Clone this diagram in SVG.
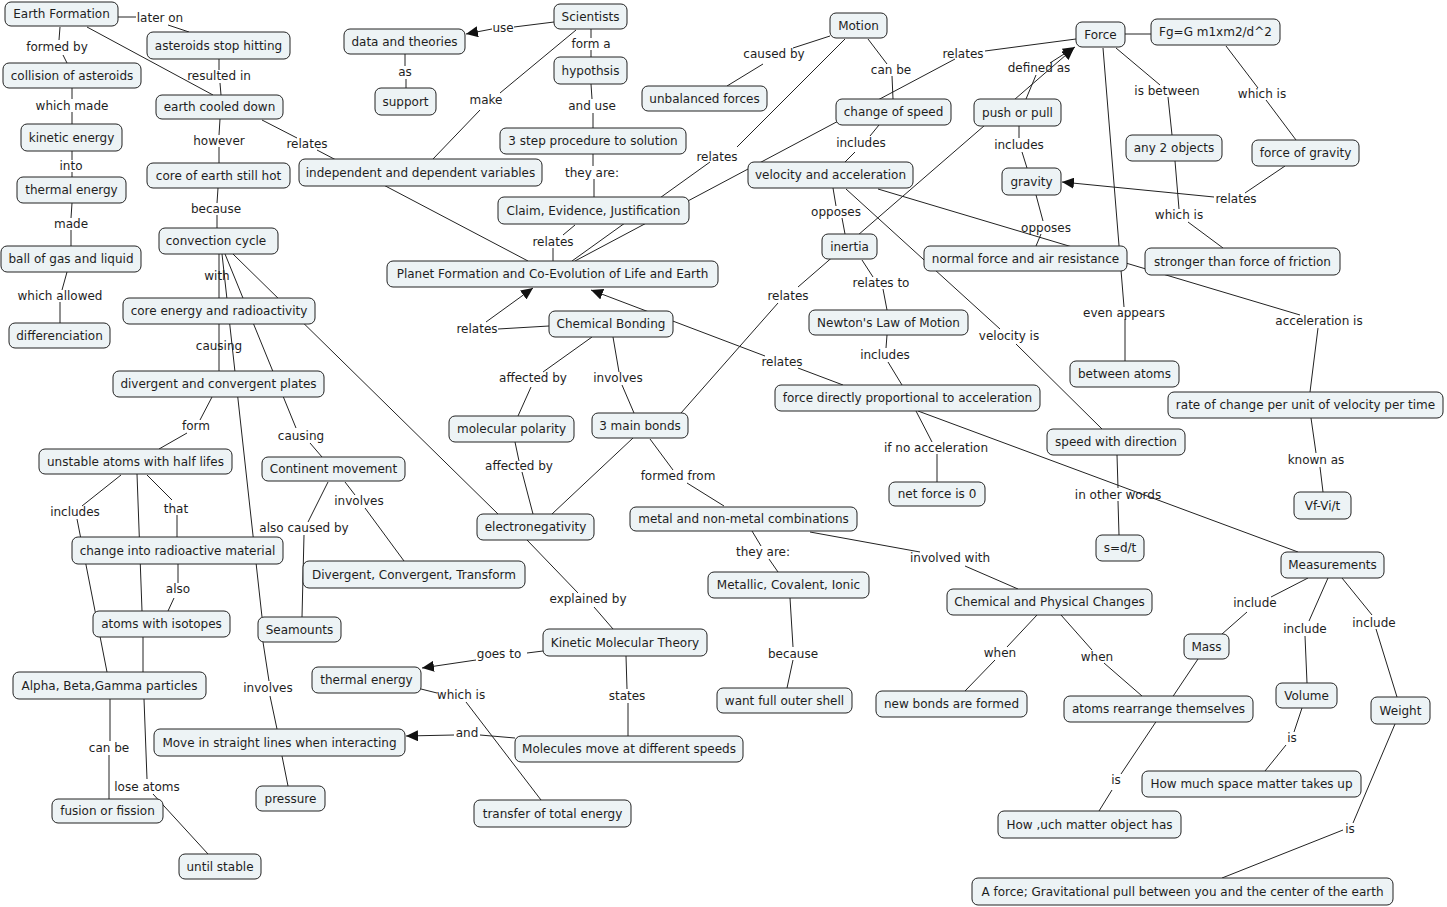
<svg xmlns="http://www.w3.org/2000/svg" width="1447" height="907" viewBox="0 0 1447 907">
<defs>
<style>
text{font-family:"DejaVu Sans",Verdana,sans-serif;font-size:12px;fill:#1e1e1e;text-anchor:middle}
.n rect{fill:#edf3f5;stroke:#222;stroke-width:1}
#connectors path{fill:none;stroke:#222;stroke-width:1}
.a{marker-end:url(#arr)}
</style>
<marker id="arr" markerUnits="userSpaceOnUse" markerWidth="13" markerHeight="11" refX="12" refY="5.5" orient="auto"><path d="M0,0 L12,5.5 L0,11 z" fill="#111"/></marker>
</defs>
<rect width="1447" height="907" fill="#fff"/>
<g id="connectors">
<path d="M118,17 L136,17"/><path d="M168,25 L189,32"/>
<path d="M60,27 L59,40"/><path d="M63,55 L67,63"/>
<path d="M87,27 L213,95"/>
<path d="M219,59 L219,70"/><path d="M220,83 L221,95"/>
<path d="M72,88 L72,99"/><path d="M72,112 L72,124"/>
<path d="M72,151 L72,160"/><path d="M72,172 L72,177"/>
<path d="M72,203 L71,218"/><path d="M71,230 L71,246"/>
<path d="M67,272 L62,290"/><path d="M60,302 L60,323"/>
<path d="M220,119 L219,135"/><path d="M219,147 L219,163"/>
<path d="M262,120 L297,138"/><path d="M317,150 L528,261"/>
<path d="M218,188 L217,203"/><path d="M217,215 L217,228"/>
<path d="M219,254 L219,298"/>
<path d="M222,254 L262,617"/>
<path d="M225,254 L296,428"/><path d="M310,443 L322,457"/>
<path d="M233,254 L498,514"/>
<path d="M219,324 L219,371"/>
<path d="M212,397 L200,420"/><path d="M187,433 L159,449"/>
<path d="M121,475 L82,506"/><path d="M77,519 L107,672"/>
<path d="M137,474 L142,611"/><path d="M143,637 L143,672"/>
<path d="M147,475 L172,500"/><path d="M177,515 L177,537"/>
<path d="M178,564 L178,583"/><path d="M174,598 L168,611"/>
<path d="M110,699 L110,741"/><path d="M109,755 L109,799"/>
<path d="M144,699 L147,779"/><path d="M153,794 L208,854"/>
<path d="M328,482 L308,522"/><path d="M304,535 L302,617"/>
<path d="M345,482 L355,495"/><path d="M365,508 L404,561"/>
<path d="M263,642 L269,681"/><path d="M270,696 L277,729"/>
<path d="M282,756 L288,786"/>
<path d="M543,651 L527,653"/><path class="a" d="M476,660 L422,668"/>
<path d="M421,689 L437,693"/><path d="M466,702 L541,800"/>
<path d="M626,656 L627,689"/><path d="M628,703 L628,736"/>
<path d="M515,738 L480,735"/><path class="a" d="M454,735 L406,736"/>
<path d="M527,540 L578,593"/><path d="M594,607 L613,629"/>
<path d="M592,337 L543,372"/><path d="M531,387 L518,416"/>
<path d="M613,337 L619,372"/><path d="M622,385 L634,413"/>
<path d="M515,442 L519,461"/><path d="M522,472 L533,514"/>
<path d="M633,438 L552,514"/>
<path d="M650,439 L673,470"/><path d="M687,483 L724,506"/>
<path d="M752,531 L761,546"/><path d="M769,559 L778,572"/>
<path d="M810,532 L920,552"/><path d="M965,566 L1018,589"/>
<path d="M790,598 L793,647"/><path d="M793,660 L787,688"/>
<path d="M549,326 L498,329"/><path class="a" d="M486,322 L533,288"/>
<path d="M843,385 L798,368"/><path class="a" d="M765,356 L591,290"/>
<path d="M554,22 L514,27"/><path class="a" d="M492,29 L466,34"/>
<path d="M591,29 L591,38"/><path d="M591,50 L591,57"/>
<path d="M591,84 L592,99"/><path d="M593,113 L593,128"/>
<path d="M593,154 L593,166"/><path d="M594,179 L594,197"/>
<path d="M405,54 L405,66"/><path d="M406,79 L406,88"/>
<path d="M576,30 L500,93"/><path d="M480,110 L433,159"/>
<path d="M575,225 L563,235"/><path d="M553,248 L553,261"/>
<path d="M845,39 L737,147"/><path d="M710,162 L572,261"/>
<path d="M575,261 L955,59"/><path d="M985,51 L1076,39"/>
<path d="M830,36 L793,48"/><path d="M763,64 L727,86"/>
<path d="M868,39 L887,64"/><path d="M892,76 L893,99"/>
<path d="M879,125 L870,136"/><path d="M855,152 L845,162"/>
<path d="M833,188 L836,206"/><path d="M842,218 L845,234"/>
<path d="M878,189 L1300,315"/><path d="M1318,328 L1310,392"/>
<path d="M846,189 L1000,329"/><path d="M1016,344 L1102,429"/>
<path d="M862,260 L873,277"/><path d="M883,289 L887,310"/>
<path d="M681,413 L778,303"/><path class="a" d="M798,287 L1074,48"/>
<path d="M887,335 L886,348"/><path d="M888,362 L902,385"/>
<path d="M916,411 L932,442"/><path d="M937,454 L937,482"/>
<path d="M918,411 L1298,552"/>
<path d="M1117,455 L1118,488"/><path d="M1118,501 L1119,535"/>
<path d="M1103,48 L1124,307"/><path d="M1125,319 L1125,361"/>
<path d="M1026,99 L1036,75"/><path class="a" d="M1050,63 L1075,47"/>
<path d="M1019,126 L1019,138"/><path d="M1022,152 L1027,168"/>
<path d="M1036,195 L1043,221"/><path d="M1041,234 L1036,246"/>
<path d="M1116,48 L1160,85"/><path d="M1168,97 L1172,135"/>
<path d="M1175,161 L1179,209"/><path d="M1188,222 L1223,248"/>
<path d="M1125,34 L1151,34"/>
<path d="M1226,46 L1258,88"/><path d="M1266,100 L1296,140"/>
<path d="M1285,166 L1245,193"/><path class="a" d="M1214,197 L1062,182"/>
<path d="M1311,418 L1316,453"/><path d="M1320,467 L1323,492"/>
<path d="M1308,578 L1271,597"/><path d="M1247,612 L1222,634"/>
<path d="M1328,578 L1309,621"/><path d="M1305,636 L1307,683"/>
<path d="M1342,578 L1372,615"/><path d="M1376,629 L1397,697"/>
<path d="M1037,615 L1007,647"/><path d="M995,660 L965,691"/>
<path d="M1061,615 L1092,650"/><path d="M1104,663 L1142,696"/>
<path d="M1198,659 L1121,774"/><path d="M1112,790 L1099,811"/>
<path d="M1302,708 L1294,732"/><path d="M1286,745 L1265,771"/>
<path d="M1395,724 L1353,823"/><path d="M1343,830 L1222,878"/>
<g id="linking-phrases">
<text x="160" y="22">later on</text>
<text x="57" y="51">formed by</text>
<text x="219" y="80">resulted in</text>
<text x="72" y="110">which made</text>
<text x="71" y="170">into</text>
<text x="71" y="228">made</text>
<text x="60" y="300">which allowed</text>
<text x="219" y="145">however</text>
<text x="216" y="213">because</text>
<text x="307" y="148">relates</text>
<text x="217" y="280">with</text>
<text x="219" y="350">causing</text>
<text x="405" y="76">as</text>
<text x="486" y="104">make</text>
<text x="503" y="32">use</text>
<text x="591" y="48">form a</text>
<text x="592" y="110">and use</text>
<text x="592" y="177">they are:</text>
<text x="553" y="246">relates</text>
<text x="717" y="161">relates</text>
<text x="774" y="58">caused by</text>
<text x="891" y="74">can be</text>
<text x="861" y="147">includes</text>
<text x="836" y="216">opposes</text>
<text x="788" y="300">relates</text>
<text x="881" y="287">relates to</text>
<text x="963" y="58">relates</text>
<text x="1039" y="72">defined as</text>
<text x="1167" y="95">is between</text>
<text x="1262" y="98">which is</text>
<text x="1019" y="149">includes</text>
<text x="1236" y="203">relates</text>
<text x="1179" y="219">which is</text>
<text x="1046" y="232">opposes</text>
<text x="1124" y="317">even appears</text>
<text x="1319" y="325">acceleration is</text>
<text x="1009" y="340">velocity is</text>
<text x="885" y="359">includes</text>
<text x="782" y="366">relates</text>
<text x="936" y="452">if no acceleration</text>
<text x="1118" y="499">in other words</text>
<text x="1316" y="464">known as</text>
<text x="950" y="562">involved with</text>
<text x="1255" y="607">include</text>
<text x="1305" y="633">include</text>
<text x="1374" y="627">include</text>
<text x="1000" y="657">when</text>
<text x="1097" y="661">when</text>
<text x="1116" y="784">is</text>
<text x="1292" y="742">is</text>
<text x="1350" y="833">is</text>
<text x="533" y="382">affected by</text>
<text x="618" y="382">involves</text>
<text x="519" y="470">affected by</text>
<text x="678" y="480">formed from</text>
<text x="763" y="556">they are:</text>
<text x="588" y="603">explained by</text>
<text x="477" y="333">relates</text>
<text x="793" y="658">because</text>
<text x="499" y="658">goes to</text>
<text x="461" y="699">which is</text>
<text x="627" y="700">states</text>
<text x="467" y="737">and</text>
<text x="196" y="430">form</text>
<text x="301" y="440">causing</text>
<text x="75" y="516">includes</text>
<text x="176" y="513">that</text>
<text x="359" y="505">involves</text>
<text x="304" y="532">also caused by</text>
<text x="178" y="593">also</text>
<text x="268" y="692">involves</text>
<text x="109" y="752">can be</text>
<text x="147" y="791">lose atoms</text>
</g>
</g>
<g id="n-earth-formation" class="n"><rect x="5" y="2" width="113" height="24" rx="6"/><text x="61.5" y="18">Earth Formation</text></g>
<g id="n-asteroids-stop" class="n"><rect x="147" y="32" width="143" height="27" rx="6"/><text x="218.5" y="49.5">asteroids stop hitting</text></g>
<g id="n-collision" class="n"><rect x="3" y="63" width="138" height="25" rx="6"/><text x="72" y="79.5">collision of asteroids</text></g>
<g id="n-earth-cooled" class="n"><rect x="156" y="95" width="127" height="24" rx="6"/><text x="219.5" y="111">earth cooled down</text></g>
<g id="n-kinetic-energy" class="n"><rect x="21" y="124" width="101" height="27" rx="6"/><text x="71.5" y="141.5">kinetic energy</text></g>
<g id="n-thermal-energy-1" class="n"><rect x="17" y="177" width="109" height="26" rx="6"/><text x="71.5" y="194">thermal energy</text></g>
<g id="n-core-hot" class="n"><rect x="147" y="163" width="143" height="25" rx="6"/><text x="218.5" y="179.5">core of earth still hot</text></g>
<g id="n-convection" class="n"><rect x="159" y="228" width="119" height="26" rx="6"/><text x="216" y="245">convection cycle</text></g>
<g id="n-ball-gas" class="n"><rect x="1" y="246" width="140" height="26" rx="6"/><text x="71" y="263">ball of gas and liquid</text></g>
<g id="n-core-energy" class="n"><rect x="123" y="298" width="192" height="26" rx="6"/><text x="219" y="315">core energy and radioactivity</text></g>
<g id="n-differenciation" class="n"><rect x="9" y="323" width="101" height="25" rx="6"/><text x="59.5" y="339.5">differenciation</text></g>
<g id="n-data-theories" class="n"><rect x="344" y="29" width="121" height="25" rx="6"/><text x="404.5" y="45.5">data and theories</text></g>
<g id="n-support" class="n"><rect x="375" y="88" width="61" height="27" rx="6"/><text x="405.5" y="105.5">support</text></g>
<g id="n-variables" class="n"><rect x="299" y="159" width="243" height="27" rx="6"/><text x="420.5" y="176.5">independent and dependent variables</text></g>
<g id="n-planet" class="n"><rect x="387" y="261" width="331" height="26" rx="6"/><text x="552.5" y="278">Planet Formation and Co-Evolution of Life and Earth</text></g>
<g id="n-scientists" class="n"><rect x="554" y="4" width="73" height="25" rx="6"/><text x="590.5" y="20.5">Scientists</text></g>
<g id="n-hypothsis" class="n"><rect x="554" y="57" width="73" height="27" rx="6"/><text x="590.5" y="74.5">hypothsis</text></g>
<g id="n-3step" class="n"><rect x="500" y="128" width="186" height="26" rx="6"/><text x="593" y="145">3 step procedure to solution</text></g>
<g id="n-claim" class="n"><rect x="498" y="197" width="191" height="27" rx="6"/><text x="593.5" y="214.5">Claim, Evidence, Justification</text></g>
<g id="n-motion" class="n"><rect x="830" y="13" width="57" height="25" rx="6"/><text x="858.5" y="29.5">Motion</text></g>
<g id="n-unbalanced" class="n"><rect x="642" y="86" width="125" height="25" rx="6"/><text x="704.5" y="102.5">unbalanced forces</text></g>
<g id="n-change-speed" class="n"><rect x="836" y="99" width="115" height="26" rx="6"/><text x="893.5" y="116">change of speed</text></g>
<g id="n-velocity-accel" class="n"><rect x="748" y="162" width="165" height="26" rx="6"/><text x="830.5" y="179">velocity and acceleration</text></g>
<g id="n-inertia" class="n"><rect x="822" y="234" width="55" height="25" rx="6"/><text x="849.5" y="250.5">inertia</text></g>
<g id="n-newton" class="n"><rect x="809" y="310" width="159" height="25" rx="6"/><text x="888.5" y="326.5">Newton's Law of Motion</text></g>
<g id="n-chem-bonding" class="n"><rect x="549" y="311" width="124" height="26" rx="6"/><text x="611" y="328">Chemical Bonding</text></g>
<g id="n-force" class="n"><rect x="1076" y="22" width="49" height="25" rx="6"/><text x="1100.5" y="38.5">Force</text></g>
<g id="n-fg" class="n"><rect x="1151" y="19" width="129" height="26" rx="6"/><text x="1215.5" y="36">Fg=G m1xm2/d^2</text></g>
<g id="n-push-pull" class="n"><rect x="974" y="99" width="87" height="27" rx="6"/><text x="1017.5" y="116.5">push or pull</text></g>
<g id="n-any2" class="n"><rect x="1126" y="135" width="96" height="26" rx="6"/><text x="1174" y="152">any 2 objects</text></g>
<g id="n-force-gravity" class="n"><rect x="1252" y="140" width="107" height="26" rx="6"/><text x="1305.5" y="157">force of gravity</text></g>
<g id="n-gravity" class="n"><rect x="1002" y="168" width="59" height="27" rx="6"/><text x="1031.5" y="185.5">gravity</text></g>
<g id="n-normal-force" class="n"><rect x="924" y="246" width="203" height="25" rx="6"/><text x="1025.5" y="262.5">normal force and air resistance</text></g>
<g id="n-stronger" class="n"><rect x="1145" y="248" width="195" height="27" rx="6"/><text x="1242.5" y="265.5">stronger than force of friction</text></g>
<g id="n-plates" class="n"><rect x="113" y="371" width="211" height="26" rx="6"/><text x="218.5" y="388">divergent and convergent plates</text></g>
<g id="n-unstable" class="n"><rect x="39" y="449" width="193" height="25" rx="6"/><text x="135.5" y="465.5">unstable atoms with half lifes</text></g>
<g id="n-continent" class="n"><rect x="262" y="457" width="143" height="24" rx="6"/><text x="333.5" y="473">Continent movement</text></g>
<g id="n-radioactive" class="n"><rect x="72" y="537" width="211" height="27" rx="6"/><text x="177.5" y="554.5">change into radioactive material</text></g>
<g id="n-dct" class="n"><rect x="303" y="561" width="222" height="27" rx="6"/><text x="414" y="578.5">Divergent, Convergent, Transform</text></g>
<g id="n-isotopes" class="n"><rect x="93" y="611" width="137" height="26" rx="6"/><text x="161.5" y="628">atoms with isotopes</text></g>
<g id="n-seamounts" class="n"><rect x="258" y="617" width="83" height="25" rx="6"/><text x="299.5" y="633.5">Seamounts</text></g>
<g id="n-alpha" class="n"><rect x="13" y="672" width="193" height="27" rx="6"/><text x="109.5" y="689.5">Alpha, Beta,Gamma particles</text></g>
<g id="n-thermal-energy-2" class="n"><rect x="312" y="667" width="109" height="26" rx="6"/><text x="366.5" y="684">thermal energy</text></g>
<g id="n-straight-lines" class="n"><rect x="154" y="729" width="251" height="27" rx="6"/><text x="279.5" y="746.5">Move in straight lines when interacting</text></g>
<g id="n-fusion" class="n"><rect x="52" y="799" width="111" height="24" rx="6"/><text x="107.5" y="815">fusion or fission</text></g>
<g id="n-pressure" class="n"><rect x="256" y="786" width="69" height="25" rx="6"/><text x="290.5" y="802.5">pressure</text></g>
<g id="n-until-stable" class="n"><rect x="179" y="854" width="82" height="25" rx="6"/><text x="220" y="870.5">until stable</text></g>
<g id="n-polarity" class="n"><rect x="449" y="416" width="125" height="26" rx="6"/><text x="511.5" y="433">molecular polarity</text></g>
<g id="n-3bonds" class="n"><rect x="592" y="413" width="96" height="25" rx="6"/><text x="640" y="429.5">3 main bonds</text></g>
<g id="n-electroneg" class="n"><rect x="477" y="514" width="117" height="26" rx="6"/><text x="535.5" y="531">electronegativity</text></g>
<g id="n-metal" class="n"><rect x="630" y="507" width="227" height="24" rx="6"/><text x="743.5" y="523">metal and non-metal combinations</text></g>
<g id="n-metallic" class="n"><rect x="708" y="572" width="161" height="26" rx="6"/><text x="788.5" y="589">Metallic, Covalent, Ionic</text></g>
<g id="n-kmt" class="n"><rect x="543" y="629" width="164" height="27" rx="6"/><text x="625" y="646.5">Kinetic Molecular Theory</text></g>
<g id="n-molecules" class="n"><rect x="515" y="736" width="228" height="26" rx="6"/><text x="629" y="753">Molecules move at different speeds</text></g>
<g id="n-transfer" class="n"><rect x="474" y="800" width="157" height="27" rx="6"/><text x="552.5" y="817.5">transfer of total energy</text></g>
<g id="n-outer-shell" class="n"><rect x="717" y="688" width="135" height="25" rx="6"/><text x="784.5" y="704.5">want full outer shell</text></g>
<g id="n-proportional" class="n"><rect x="775" y="385" width="265" height="26" rx="6"/><text x="907.5" y="402">force directly proportional to acceleration</text></g>
<g id="n-net-force" class="n"><rect x="889" y="482" width="96" height="24" rx="6"/><text x="937" y="498">net force is 0</text></g>
<g id="n-between-atoms" class="n"><rect x="1070" y="361" width="109" height="26" rx="6"/><text x="1124.5" y="378">between atoms</text></g>
<g id="n-rate" class="n"><rect x="1168" y="392" width="275" height="26" rx="6"/><text x="1305.5" y="409">rate of change per unit of velocity per time</text></g>
<g id="n-speed-dir" class="n"><rect x="1047" y="429" width="138" height="26" rx="6"/><text x="1116" y="446">speed with direction</text></g>
<g id="n-vf" class="n"><rect x="1294" y="492" width="57" height="27" rx="6"/><text x="1322.5" y="509.5">Vf-Vi/t</text></g>
<g id="n-sdt" class="n"><rect x="1096" y="535" width="48" height="26" rx="6"/><text x="1120" y="552">s=d/t</text></g>
<g id="n-measurements" class="n"><rect x="1281" y="552" width="103" height="26" rx="6"/><text x="1332.5" y="569">Measurements</text></g>
<g id="n-chem-phys" class="n"><rect x="947" y="589" width="205" height="26" rx="6"/><text x="1049.5" y="606">Chemical and Physical Changes</text></g>
<g id="n-new-bonds" class="n"><rect x="876" y="691" width="151" height="26" rx="6"/><text x="951.5" y="708">new bonds are formed</text></g>
<g id="n-mass" class="n"><rect x="1184" y="634" width="45" height="25" rx="6"/><text x="1206.5" y="650.5">Mass</text></g>
<g id="n-rearrange" class="n"><rect x="1064" y="696" width="189" height="26" rx="6"/><text x="1158.5" y="713">atoms rearrange themselves</text></g>
<g id="n-volume" class="n"><rect x="1276" y="683" width="61" height="25" rx="6"/><text x="1306.5" y="699.5">Volume</text></g>
<g id="n-weight" class="n"><rect x="1371" y="697" width="59" height="27" rx="6"/><text x="1400.5" y="714.5">Weight</text></g>
<g id="n-space" class="n"><rect x="1142" y="771" width="219" height="26" rx="6"/><text x="1251.5" y="788">How much space matter takes up</text></g>
<g id="n-matter" class="n"><rect x="998" y="811" width="183" height="27" rx="6"/><text x="1089.5" y="828.5">How ,uch matter object has</text></g>
<g id="n-a-force" class="n"><rect x="972" y="878" width="421" height="27" rx="6"/><text x="1182.5" y="895.5">A force; Gravitational pull between you and the center of the earth</text></g>
</svg>
